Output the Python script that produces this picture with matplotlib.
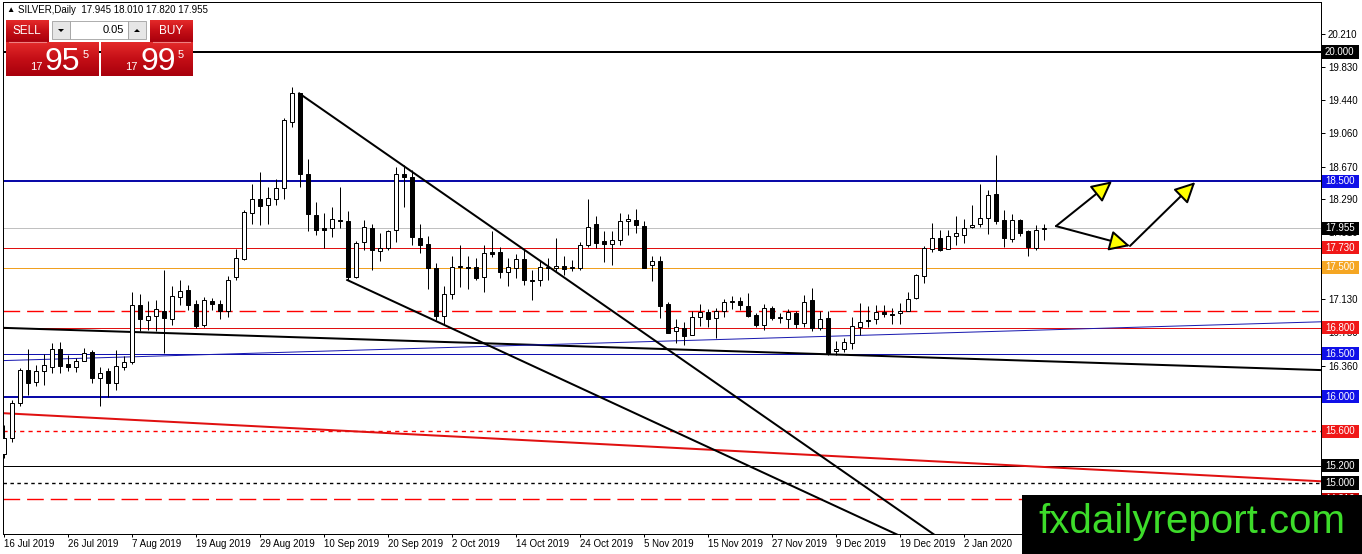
import numpy as np
import matplotlib
matplotlib.use("Agg")
import matplotlib.pyplot as plt
from matplotlib.patches import Rectangle, FancyArrowPatch, Polygon
from matplotlib.colors import LinearSegmentedColormap
from matplotlib.transforms import blended_transform_factory

plt.rcParams['font.family'] = ['Liberation Sans', 'DejaVu Sans']

# daily OHLC, 16 Jul 2019 .. 16 Jan 2020
opens = [15.34, 15.52, 15.93, 16.31, 16.17, 16.30, 16.35, 16.55, 16.38, 16.34,
         16.42, 16.52, 16.22, 16.30, 16.16, 16.34, 16.40, 17.07, 16.89, 16.94,
         17.00, 16.90, 17.16, 17.24, 17.08, 16.83, 17.11, 17.08, 17.00, 17.39,
         17.60, 18.13, 18.30, 18.22, 18.30, 18.42, 19.19, 19.52, 18.59, 18.11,
         17.96, 17.96, 18.05, 18.04, 17.39, 17.80, 17.96, 17.69, 17.73, 17.93,
         18.59, 18.55, 17.84, 17.77, 17.49, 16.94, 17.19, 17.51, 17.51, 17.50,
         17.39, 17.68, 17.68, 17.45, 17.49, 17.60, 17.36, 17.36, 17.49, 17.49,
         17.52, 17.49, 17.49, 17.76, 18.01, 17.81, 17.77, 17.82, 18.04, 18.05,
         17.98, 17.53, 17.58, 17.08, 16.76, 16.80, 16.72, 16.92, 16.98, 16.91,
         17.00, 17.10, 17.11, 17.05, 16.95, 16.83, 17.03, 16.91, 16.90, 16.97,
         16.86, 17.12, 16.80, 16.91, 16.53, 16.56, 16.62, 16.81, 16.89, 16.90,
         16.98, 16.96, 16.97, 17.00, 17.15, 17.40, 17.72, 17.84, 17.71, 17.86,
         17.88, 17.97, 18.00, 18.08, 18.35, 18.05, 17.83, 18.05, 17.92, 17.73,
         17.945]
highs = [15.67, 15.96, 16.33, 16.56, 16.37, 16.50, 16.62, 16.63, 16.48, 16.45,
         16.57, 16.54, 16.34, 16.33, 16.54, 16.47, 17.21, 17.19, 17.11, 17.12,
         17.47, 17.29, 17.36, 17.30, 17.12, 17.16, 17.15, 17.12, 17.40, 17.72,
         18.17, 18.47, 18.61, 18.43, 18.53, 19.24, 19.59, 19.53, 18.76, 18.26,
         18.13, 18.20, 18.43, 18.16, 17.81, 18.05, 18.01, 17.90, 17.94, 18.67,
         18.69, 18.63, 18.01, 17.87, 17.55, 17.29, 17.63, 17.76, 17.63, 17.61,
         17.76, 17.92, 17.74, 17.61, 17.66, 17.72, 17.47, 17.59, 17.61, 17.84,
         17.63, 17.59, 17.80, 18.30, 18.10, 17.92, 17.92, 18.13, 18.12, 18.18,
         18.04, 17.63, 17.63, 17.10, 16.90, 16.87, 17.00, 17.08, 17.02, 17.03,
         17.14, 17.17, 17.16, 17.20, 16.97, 17.08, 17.05, 16.97, 17.02, 17.00,
         17.18, 17.26, 17.00, 17.00, 16.65, 16.68, 16.93, 17.09, 17.05, 17.06,
         17.07, 17.03, 17.09, 17.21, 17.43, 17.75, 18.02, 17.94, 17.93, 18.10,
         18.06, 18.23, 18.47, 18.40, 18.81, 18.17, 18.12, 18.06, 17.93, 17.99,
         18.010]
lows = [15.29, 15.48, 15.89, 16.02, 16.12, 16.14, 16.28, 16.28, 16.30, 16.29,
        16.41, 16.16, 15.89, 16.00, 16.08, 16.31, 16.38, 16.76, 16.78, 16.76,
        16.51, 16.83, 17.07, 17.01, 16.80, 16.81, 17.01, 16.90, 16.93, 17.36,
        17.59, 18.01, 17.99, 18.01, 18.22, 18.29, 19.13, 18.43, 17.92, 17.88,
        17.73, 17.85, 17.96, 17.36, 17.38, 17.70, 17.47, 17.57, 17.70, 17.80,
        18.20, 17.76, 17.67, 17.25, 16.89, 16.85, 17.14, 17.27, 17.25, 17.35,
        17.22, 17.62, 17.38, 17.29, 17.38, 17.30, 17.12, 17.28, 17.36, 17.46,
        17.41, 17.46, 17.47, 17.74, 17.73, 17.56, 17.53, 17.76, 17.88, 17.90,
        17.49, 17.34, 16.91, 16.74, 16.62, 16.60, 16.72, 16.82, 16.81, 16.68,
        16.92, 17.02, 17.01, 16.93, 16.81, 16.78, 16.89, 16.86, 16.80, 16.80,
        16.81, 16.76, 16.78, 16.49, 16.49, 16.52, 16.56, 16.72, 16.81, 16.85,
        16.92, 16.84, 16.85, 16.99, 17.13, 17.32, 17.68, 17.69, 17.71, 17.76,
        17.79, 17.96, 17.97, 17.89, 18.00, 17.74, 17.80, 17.87, 17.63, 17.70,
        17.820]
closes = [15.52, 15.93, 16.31, 16.16, 16.30, 16.37, 16.55, 16.36, 16.35, 16.42,
          16.51, 16.22, 16.28, 16.16, 16.36, 16.40, 17.07, 16.90, 16.94, 17.02,
          16.91, 17.17, 17.23, 17.07, 16.82, 17.12, 17.08, 17.00, 17.36, 17.61,
          18.14, 18.30, 18.21, 18.31, 18.42, 19.21, 19.53, 18.59, 18.12, 17.94,
          17.94, 18.06, 18.04, 17.39, 17.79, 17.97, 17.70, 17.73, 17.92, 18.59,
          18.55, 17.85, 17.76, 17.49, 16.94, 17.19, 17.51, 17.52, 17.50, 17.38,
          17.67, 17.66, 17.45, 17.51, 17.60, 17.36, 17.34, 17.50, 17.50, 17.52,
          17.48, 17.50, 17.76, 17.97, 17.79, 17.77, 17.82, 18.04, 18.06, 17.99,
          17.50, 17.58, 17.05, 16.74, 16.81, 16.71, 16.92, 16.98, 16.90, 17.00,
          17.10, 17.11, 17.06, 16.94, 16.83, 17.03, 16.91, 16.92, 16.98, 16.85,
          17.10, 16.80, 16.90, 16.51, 16.55, 16.63, 16.82, 16.87, 16.88, 16.98,
          16.96, 16.95, 17.00, 17.14, 17.41, 17.73, 17.84, 17.70, 17.86, 17.90,
          17.96, 17.99, 18.08, 18.34, 18.04, 17.84, 18.05, 17.90, 17.74, 17.94,
          17.955]

date_labels = ["16 Jul 2019", "26 Jul 2019", "7 Aug 2019", "19 Aug 2019",
               "29 Aug 2019", "10 Sep 2019", "20 Sep 2019", "2 Oct 2019",
               "14 Oct 2019", "24 Oct 2019", "5 Nov 2019", "15 Nov 2019",
               "27 Nov 2019", "9 Dec 2019", "19 Dec 2019", "2 Jan 2020",
               "14 Jan 2020"]
price_ticks = [20.21, 19.83, 19.44, 19.06, 18.67, 18.29, 17.91, 17.52, 17.13,
               16.75, 16.36, 15.97, 15.59, 15.20, 14.82]
# tick labels that sit completely under a level tag in the chart
hidden_ticks = [17.52, 15.97, 15.59, 15.20, 14.82]

# horizontal levels drawn on the chart
level_prices = [20.0, 18.5, 17.73, 17.5, 17.0, 16.8, 16.5, 16.0, 15.6, 15.2, 15.0, 14.81]
level_labels = ["20.000", "18.500", "17.730", "17.500", None, "16.800", "16.500",
                "16.000", "15.600", "15.200", "15.000", "14.810"]
current_price = 17.955

# trend lines as two anchor points (bar index, price)
trend_lines = [
    [(-0.125, 16.80), (164.6, 16.31)],
    [(-0.125, 16.42), (164.6, 16.87)],
    [(-0.125, 15.81), (164.6, 15.02)],
    [(36.9, 19.52), (64.5, 17.74)],
    [(42.9, 17.355), (56.4, 16.775)],
]
# forecast arrows (start, tip)
arrows = [
    [(131.5, 17.98), (138.5, 18.50)],
    [(131.5, 17.98), (140.75, 17.75)],
    [(140.75, 17.75), (148.9, 18.49)],
]

W, H = 1362, 554
fig = plt.figure(figsize=(W / 100, H / 100), dpi=100)
ax = fig.add_axes([3 / W, (H - 534) / H, 1318 / W, 532 / H])
ax.set_xlim(-0.125, 164.625)
ax.set_ylim(20 - 482 / 86.2, 20 + 50 / 86.2)

px = 0.72
level_styles = [
    dict(color="black", lw=2 * px),
    dict(color="#0a0aa8", lw=2 * px),
    dict(color="#e01010", lw=px),
    dict(color="#f0a020", lw=px),
    dict(color="#ff0000", lw=1.0, dashes=(12, 5)),
    dict(color="#e01010", lw=px),
    dict(color="#1010b0", lw=px),
    dict(color="#0a0aa8", lw=2 * px),
    dict(color="#ff0000", lw=1.0, dashes=(3, 3)),
    dict(color="black", lw=px),
    dict(color="black", lw=1.0, dashes=(2.5, 2.5)),
    dict(color="#ff0000", lw=1.0, dashes=(12, 5)),
]
label_colors = ["black", "#1010e8", "#f01818", "#f5a623", None, "#f01818",
                "#1010e8", "#1010e8", "#f01818", "black", "black", "#c00000"]

for p, st in zip(level_prices, level_styles):
    ax.axhline(p, zorder=1, **st)
ax.axhline(current_price, color="#c0c0c0", lw=px, zorder=1)

trend_styles = [
    dict(color="black", lw=2 * px),
    dict(color="#1a1ab0", lw=px),
    dict(color="#e01010", lw=2 * px),
    dict(color="black", lw=2 * px),
    dict(color="black", lw=2 * px),
]
for (a, b), st in zip(trend_lines, trend_styles):
    k = 30
    ax.plot([a[0], a[0] + (b[0] - a[0]) * k], [a[1], a[1] + (b[1] - a[1]) * k],
            zorder=2, **st)

# candles
x = np.arange(len(opens))
o = np.array(opens); c = np.array(closes)
h = np.array(highs); l = np.array(lows)
ax.vlines(x, l, h, color="black", lw=px, zorder=3)
bull = c >= o
body_lo = np.minimum(o, c)
body_h = np.maximum(np.abs(c - o), 0.004)
ax.bar(x[bull], body_h[bull], bottom=body_lo[bull], width=0.6,
       facecolor="white", edgecolor="black", lw=px, zorder=4)
ax.bar(x[~bull], body_h[~bull], bottom=body_lo[~bull], width=0.6,
       facecolor="black", edgecolor="black", lw=px, zorder=4)

# arrows
for a, b in arrows:
    ar = FancyArrowPatch(a, b, arrowstyle="-|>,head_length=0.9,head_width=0.45",
                         mutation_scale=14, fc="#ffff00", ec="black",
                         lw=2 * px, shrinkA=0, shrinkB=0, zorder=6)
    ax.add_patch(ar)

# axes cosmetics (MT4 look)
for s in ax.spines.values():
    s.set_color("black")
    s.set_linewidth(px)
ax.yaxis.tick_right()
ax.set_yticks(price_ticks)
ax.set_yticklabels(["" if t in hidden_ticks else f"{t:.3f}" for t in price_ticks])
ax.set_xticks(np.arange(0, 8 * len(date_labels), 8))
ax.set_xticklabels(date_labels, ha="left")
ax.tick_params(axis="y", direction="out", length=3, width=px, pad=2, labelsize=7)
ax.tick_params(axis="x", direction="out", length=2, width=px, pad=1.5, labelsize=7)

# price tags on the right scale
tag_tr = blended_transform_factory(ax.transAxes, ax.transData)
ppx = 86.2   # pixels per price unit
axw = 1318.0


def price_tag(p, text, col):
    ax.add_patch(Rectangle((1 + 1 / axw, p - 6.5 / ppx), 37 / axw, 13 / ppx,
                           transform=tag_tr, fc=col, ec="none",
                           clip_on=False, zorder=7))
    ax.text(1 + 4 / axw, p, text, transform=tag_tr, fontsize=7, color="white",
            ha="left", va="center", clip_on=False, zorder=8)


for p, lab, col in zip(level_prices, level_labels, label_colors):
    if lab is not None:
        price_tag(p, lab, col)
price_tag(current_price, f"{current_price:.3f}", "black")

# overlay in pixel coordinates: title, trade panel, watermark
ov = fig.add_axes([0, 0, 1, 1], zorder=10)
ov.set_xlim(0, W)
ov.set_ylim(H, 0)
ov.axis("off")
ov.patch.set_visible(False)

ov.text(6, 10, "\u25b2", fontsize=6, va="center", ha="left")
ov.text(18, 10, "SILVER,Daily  17.945 18.010 17.820 17.955", fontsize=7,
        va="center", ha="left")

red_cmap = LinearSegmentedColormap.from_list("r", ["#e42a2a", "#c40e16", "#a8000c"])
grad = np.linspace(0, 1, 64)[:, None]


def red_box(x0, x1, y0, y1):
    ov.imshow(grad, cmap=red_cmap, extent=(x0, x1, y1, y0), aspect="auto",
              origin="upper", zorder=1)


red_box(6, 49, 20, 42)
red_box(150, 193, 20, 42)
red_box(6, 99, 42, 76)
red_box(101, 193, 42, 76)
ov.plot([9, 46], [42, 42], color="#f08080", lw=0.8, zorder=2)
ov.plot([153, 190], [42, 42], color="#f08080", lw=0.8, zorder=2)
ov.add_patch(Rectangle((52, 21), 18, 18, fc="#e6e6e6", ec="#a0a0a0", lw=0.6, zorder=1))
ov.add_patch(Rectangle((70, 21), 58, 18, fc="white", ec="#a0a0a0", lw=0.6, zorder=1))
ov.add_patch(Rectangle((128, 21), 18, 18, fc="#e6e6e6", ec="#a0a0a0", lw=0.6, zorder=1))
ov.add_patch(Polygon([(58, 29), (64, 29), (61, 32)], closed=True, fc="black", zorder=2))
ov.add_patch(Polygon([(134, 32), (140, 32), (137, 29)], closed=True, fc="black", zorder=2))
ov.text(124, 30, "0.05", fontsize=8, ha="right", va="center", zorder=3)
ov.text(27, 31, "SELL", fontsize=8.5, color="white", ha="center", va="center", zorder=3)
ov.text(171, 31, "BUY", fontsize=8.5, color="white", ha="center", va="center", zorder=3)
for x0, big in ((30, "95"), (125, "99")):
    ov.text(x0, 70, "17", fontsize=8, color="white", ha="left", va="baseline", zorder=3)
    ov.text(x0 + 15, 70, big, fontsize=23, color="white", ha="left", va="baseline", zorder=3)
    ov.text(x0 + 53, 58, "5", fontsize=8, color="white", ha="left", va="baseline", zorder=3)

ov.add_patch(Rectangle((1022, 495), W - 1022, H - 495, fc="black", ec="none", zorder=5))
ov.text(1038, 533, "fxdailyreport.com", fontsize=29, color="#3ddc2a",
        ha="left", va="baseline", zorder=6)

fig.savefig("out.png", dpi=100)
